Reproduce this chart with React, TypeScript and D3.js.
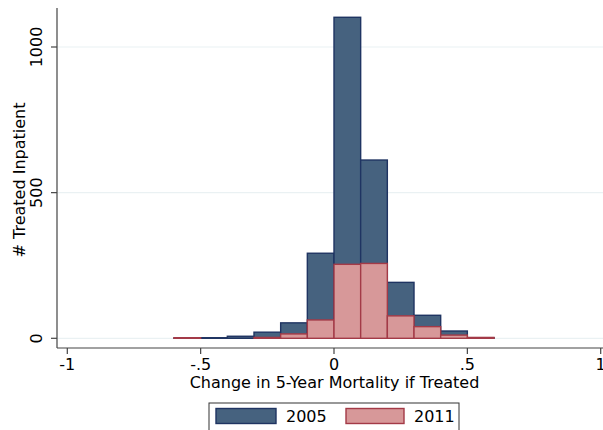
import React from "react";
import * as d3 from "d3";

// Histogram bins (left edges, width 0.1) of the change in 5-year mortality
const binStarts = [-0.6, -0.5, -0.4, -0.3, -0.2, -0.1, 0, 0.1, 0.2, 0.3, 0.4, 0.5];
const counts2005 = [1, 2, 7, 21, 53, 292, 1102, 612, 192, 79, 25, 2];
const counts2011 = [2, 0, 0, 3, 15, 63, 254, 257, 77, 40, 11, 3];
const binWidth = 0.1;

const xTicks = [-1, -0.5, 0, 0.5, 1];
const xTickLabels = ["-1", "-.5", "0", ".5", "1"];
const yTicks = [0, 500, 1000];
const seriesNames = ["2005", "2011"];

const W = 603;
const H = 430;
const FONT = "DejaVu Sans, sans-serif";
const FS = 16;

const colors = {
  fill2005: "#46627f",
  stroke2005: "#1f3462",
  fill2011: "#d79899",
  stroke2011: "#a33a47",
  grid: "#eaf1f3",
  axis: "#444",
};

export default function App() {
  const x = d3.scaleLinear().domain([-1, 1]).range([67.3, 600.7]);
  const y = d3.scaleLinear().domain([0, 1000]).range([338.3, 47]);
  const axisY = 348;
  const axisX = 57;

  const bars = (vals: number[], fill: string, stroke: string) =>
    binStarts.map((b, i) =>
      vals[i] > 0 ? (
        <rect
          key={i}
          x={x(b)}
          width={x(b + binWidth) - x(b)}
          y={y(vals[i])}
          height={y(0) - y(vals[i])}
          fill={fill}
          stroke={stroke}
          strokeWidth={1.4}
        />
      ) : null
    );

  return (
    <svg
      width={W}
      height={H}
      style={{ position: "absolute", left: 0, top: 0, background: "#fff" }}
      fontFamily={FONT}
    >
      {/* gridlines */}
      {yTicks.map((t) => (
        <line key={t} x1={axisX} x2={W} y1={y(t)} y2={y(t)} stroke={colors.grid} strokeWidth={1.2} />
      ))}
      {bars(counts2005, colors.fill2005, colors.stroke2005)}
      {bars(counts2011, colors.fill2011, colors.stroke2011)}

      {/* y axis */}
      <line x1={axisX} x2={axisX} y1={8} y2={axisY} stroke={colors.axis} strokeWidth={1.2} />
      {yTicks.map((t) => (
        <g key={t}>
          <line x1={axisX - 6} x2={axisX} y1={y(t)} y2={y(t)} stroke={colors.axis} strokeWidth={1.2} />
          <text
            transform={`translate(42,${y(t)}) rotate(-90)`}
            textAnchor="middle"
            fontSize={FS}
            fill="#000"
          >
            {t}
          </text>
        </g>
      ))}
      <text transform={`translate(25,180) rotate(-90)`} textAnchor="middle" fontSize={FS} fill="#000">
        # Treated Inpatient
      </text>

      {/* x axis */}
      <line x1={axisX} x2={W} y1={axisY} y2={axisY} stroke={colors.axis} strokeWidth={1.2} />
      {xTicks.map((t, i) => (
        <g key={t}>
          <line x1={x(t)} x2={x(t)} y1={axisY} y2={axisY + 6} stroke={colors.axis} strokeWidth={1.2} />
          <text x={x(t)} y={370} textAnchor="middle" fontSize={FS} fill="#000">
            {xTickLabels[i]}
          </text>
        </g>
      ))}
      <text x={334.5} y={388} textAnchor="middle" fontSize={FS} fill="#000">
        Change in 5-Year Mortality if Treated
      </text>

      {/* legend */}
      <rect x={209} y={403} width={250} height={40} fill="#fff" stroke="#333" strokeWidth={1} />
      <rect x={216} y={408.5} width={60} height={15} fill={colors.fill2005} stroke={colors.stroke2005} strokeWidth={1.4} />
      <text x={286} y={422} fontSize={FS} fill="#000">{seriesNames[0]}</text>
      <rect x={346} y={408.5} width={58} height={15} fill={colors.fill2011} stroke={colors.stroke2011} strokeWidth={1.4} />
      <text x={414} y={422} fontSize={FS} fill="#000">{seriesNames[1]}</text>
    </svg>
  );
}
